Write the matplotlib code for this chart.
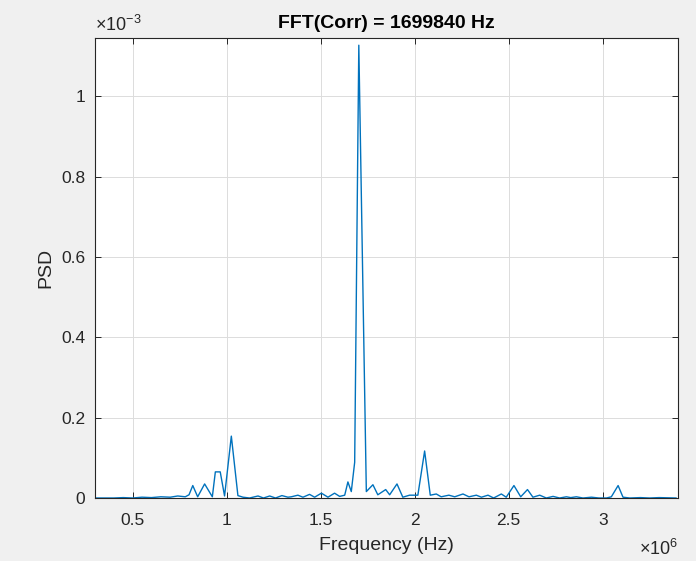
import matplotlib.pyplot as plt
from matplotlib.ticker import FuncFormatter

# frequency in units of 1e6 Hz, PSD in units of 1e-3
freq = [0.30, 0.40, 0.45, 0.50, 0.55, 0.60, 0.65, 0.70, 0.74, 0.78, 0.80,
        0.82, 0.846, 0.883, 0.924, 0.94, 0.966, 0.989, 1.025, 1.06, 1.087,
        1.122, 1.167, 1.196, 1.229, 1.26, 1.294, 1.326, 1.344, 1.379, 1.406,
        1.441, 1.468, 1.504, 1.539, 1.574, 1.601, 1.628, 1.645, 1.663, 1.681,
        1.703, 1.743, 1.778, 1.804, 1.846, 1.867, 1.906, 1.937, 1.973, 1.999,
        2.017, 2.053, 2.083, 2.115, 2.141, 2.182, 2.213, 2.257, 2.289, 2.328,
        2.355, 2.39, 2.42, 2.461, 2.487, 2.528, 2.564, 2.60, 2.629, 2.665,
        2.70, 2.736, 2.771, 2.807, 2.83, 2.86, 2.895, 2.94, 2.98, 3.02,
        3.046, 3.082, 3.108, 3.144, 3.2, 3.25, 3.3, 3.39]
psd = [0.0, 0.0, 0.001, 0.0, 0.002, 0.001, 0.003, 0.002, 0.005, 0.003, 0.008,
       0.031, 0.003, 0.035, 0.003, 0.065, 0.065, 0.005, 0.154, 0.006, 0.002,
       0.0, 0.005, 0.0, 0.005, 0.0, 0.006, 0.002, 0.003, 0.007, 0.002,
       0.009, 0.002, 0.012, 0.002, 0.012, 0.004, 0.007, 0.040, 0.016, 0.089,
       1.127, 0.016, 0.033, 0.008, 0.021, 0.008, 0.035, 0.002, 0.007, 0.007,
       0.007, 0.117, 0.007, 0.010, 0.003, 0.007, 0.003, 0.010, 0.003, 0.007,
       0.002, 0.007, 0.0, 0.010, 0.002, 0.031, 0.003, 0.021, 0.002, 0.007,
       0.0, 0.004, 0.0, 0.003, 0.001, 0.003, 0.0, 0.002, 0.0, 0.0,
       0.003, 0.031, 0.002, 0.0, 0.001, 0.0, 0.001, 0.0]

xticks = [0.5, 1, 1.5, 2, 2.5, 3]
yticks = [0, 0.2, 0.4, 0.6, 0.8, 1]
title = 'FFT(Corr) = 1699840 Hz'

plt.rcParams['font.family'] = ['Liberation Sans', 'DejaVu Sans']
plt.rcParams['mathtext.fontset'] = 'custom'
plt.rcParams['mathtext.rm'] = 'Liberation Sans'
plt.rcParams['mathtext.it'] = 'Liberation Sans'

fig = plt.figure(figsize=(6.96, 5.61), dpi=100, facecolor='#f0f0f0')
ax = fig.add_axes([0.1365, 0.1123, 0.8375, 0.82])
ax.set_facecolor('white')

ax.plot(freq, psd, color='#0072BD', linewidth=1.0, zorder=3)

ax.set_xlim(0.3, 3.4)
ax.set_ylim(0, 1.145)
ax.set_xticks(xticks)
ax.set_yticks(yticks)
fmt = FuncFormatter(lambda v, p: '%g' % v)
ax.xaxis.set_major_formatter(fmt)
ax.yaxis.set_major_formatter(fmt)

ax.grid(True, color='#dcdcdc', linewidth=0.7)
ax.set_axisbelow(True)
for s in ax.spines.values():
    s.set_color('#262626')
    s.set_linewidth(0.8)
    s.set_zorder(4)
ax.tick_params(direction='in', length=4, width=0.7, colors='#262626',
               labelsize=12.5, top=True, right=True)
ax.tick_params(axis='x', pad=11)
ax.tick_params(axis='y', pad=7)

ax.set_xlabel('Frequency (Hz)', fontsize=14, color='#262626', labelpad=6)
ax.set_ylabel('PSD', fontsize=14, color='#262626', labelpad=5)
ax.set_title(title, fontsize=14, fontweight='bold', color='black', pad=7)

ax.text(0.0, 1.006, '×10$^{-3}$', transform=ax.transAxes,
        fontsize=13, color='#262626', ha='left', va='bottom')
ax.text(1.0, -0.088, '×10$^{6}$', transform=ax.transAxes,
        fontsize=13, color='#262626', ha='right', va='top')

fig.savefig('out.png', dpi=100, facecolor=fig.get_facecolor())
